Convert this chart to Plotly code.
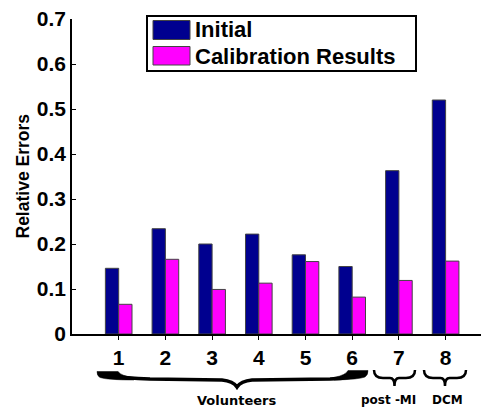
import plotly.graph_objects as go

categories = [1, 2, 3, 4, 5, 6, 7, 8]
initial = [0.146, 0.234, 0.200, 0.222, 0.176, 0.150, 0.363, 0.520]
calibration = [0.066, 0.166, 0.099, 0.113, 0.161, 0.082, 0.119, 0.162]
y_ticks = [0, 0.1, 0.2, 0.3, 0.4, 0.5, 0.6, 0.7]
y_ticklabels = ["0", "0.1", "0.2", "0.3", "0.4", "0.5", "0.6", "0.7"]
series_names = ["Initial", "Calibration Results"]
group_labels = ["Volunteers", "post -MI", "DCM"]

OFF = 8  # page body margin
W, H = 489 - OFF, 410 - OFF
L, T, B = 72, 19, 334   # target pixel positions in the window
R = 489
PW, PH = R - L, B - T

def xp(px):
    return (px - L) / PW

def yp(py):
    return (B - py) / PH

def path(cmds):
    out = []
    for c in cmds:
        if isinstance(c, str):
            out.append(c)
        else:
            out.append(f"{xp(c[0]):.5f},{yp(c[1]):.5f}")
    return " ".join(out)

def brace(x0, x1, ytop, ymid, ytip, r):
    xc = (x0 + x1) / 2
    return path(["M", (x0, ytop), "Q", (x0, ymid), (x0 + r, ymid),
                 "L", (xc - r / 2, ymid), "Q", (xc, ymid), (xc, ytip),
                 "Q", (xc, ymid), (xc + r / 2, ymid),
                 "L", (x1 - r, ymid), "Q", (x1, ymid), (x1, ytop)])

fig = go.Figure()
fig.add_trace(go.Bar(x=categories, y=initial, name=series_names[0],
                     marker=dict(color="#00008F", line=dict(color="#444444", width=1))))
fig.add_trace(go.Bar(x=categories, y=calibration, name=series_names[1],
                     marker=dict(color="#FF00FF", line=dict(color="#444444", width=1))))

shapes = []
shapes.append(dict(type="rect", xref="paper", yref="paper",
                   x0=xp(147), x1=xp(416), y0=yp(71), y1=yp(16),
                   line=dict(color="black", width=2), fillcolor="white"))
shapes.append(dict(type="rect", xref="paper", yref="paper",
                   x0=xp(153), x1=xp(190), y0=yp(39.5), y1=yp(20.5),
                   line=dict(color="#444444", width=1), fillcolor="#00008F"))
shapes.append(dict(type="rect", xref="paper", yref="paper",
                   x0=xp(153), x1=xp(190), y0=yp(65), y1=yp(46.5),
                   line=dict(color="#444444", width=1), fillcolor="#FF00FF"))
# big brace: line + filled end blobs
big = path(["M", (110, 376), "Q", (125, 378), (150, 379), "L", (222, 380),
            "Q", (233, 381), (237, 387), "Q", (241, 381), (252, 380),
            "L", (330, 379), "Q", (352, 378), (360, 375)])
shapes.append(dict(type="path", xref="paper", yref="paper", path=big,
                   line=dict(color="black", width=3.5)))
left_blob = path(["M", (97, 371.5), "L", (118, 371.5), "Q", (121, 376), (134, 377.5),
                  "L", (134, 380), "Q", (107, 380), (100, 377.5), "Q", (97, 376), (97, 371.5), "Z"])
right_blob = path(["M", (368, 370.5), "L", (348, 370.5), "Q", (346, 375), (334, 377.5),
                   "L", (334, 380), "Q", (359, 379.5), (365, 377), "Q", (368, 375), (368, 370.5), "Z"])
for p in (left_blob, right_blob):
    shapes.append(dict(type="path", xref="paper", yref="paper", path=p,
                       fillcolor="black", line=dict(color="black", width=0.5)))
shapes.append(dict(type="path", xref="paper", yref="paper",
                   path=brace(374, 415, 370, 378, 386, 9),
                   line=dict(color="black", width=2.5)))
shapes.append(dict(type="path", xref="paper", yref="paper",
                   path=brace(424, 466, 370, 378, 386, 9),
                   line=dict(color="black", width=2.5)))

ann = []
ann.append(dict(text="<b>Relative Errors</b>", xref="paper", yref="paper",
                x=xp(22), y=0.5, textangle=-90, showarrow=False,
                xanchor="center", yanchor="middle",
                font=dict(family="Liberation Sans", size=17.5, color="black")))
ann.append(dict(text="<b>" + series_names[0] + "</b>", xref="paper", yref="paper",
                x=xp(193), y=yp(30), showarrow=False, xanchor="left", yanchor="middle",
                font=dict(family="Liberation Sans", size=22, color="black")))
ann.append(dict(text="<b>" + series_names[1] + "</b>", xref="paper", yref="paper",
                x=xp(193), y=yp(56), showarrow=False, xanchor="left", yanchor="middle",
                font=dict(family="Liberation Sans", size=22, color="black")))
for lab, cx in zip(group_labels, [237, 388, 447]):
    ann.append(dict(text="<b>" + lab + "</b>", xref="paper", yref="paper",
                    x=xp(cx), y=yp(400), showarrow=False, xanchor="center", yanchor="middle",
                    font=dict(family="DejaVu Sans", size=13 if lab == "Volunteers" else 12, color="black")))

fig.update_layout(
    width=W, height=H,
    margin=dict(l=L - OFF, r=W - (R - OFF), t=T - OFF, b=H - (B - OFF)),
    paper_bgcolor="white", plot_bgcolor="white",
    barmode="group", bargap=0.43, bargroupgap=0,
    showlegend=False,
    shapes=shapes, annotations=ann,
    xaxis=dict(range=[0, PW / 46.7], tickvals=categories,
               ticktext=["<b>%d</b>" % c for c in categories],
               showline=True, linecolor="black", linewidth=1.5, ticks="outside", ticklen=4,
               tickcolor="black", showgrid=False, zeroline=False,
               tickfont=dict(family="Liberation Sans", size=21, color="black")),
    yaxis=dict(range=[0, 0.7], tickvals=y_ticks, ticktext=["<b>%s</b>" % t for t in y_ticklabels],
               showline=True, linecolor="black", linewidth=1.5, ticks="inside", ticklen=4,
               tickcolor="black", showgrid=False, zeroline=False, ticklabeloverflow="allow",
               tickfont=dict(family="Liberation Sans", size=21, color="black")),
)

fig.write_html("out.html")
